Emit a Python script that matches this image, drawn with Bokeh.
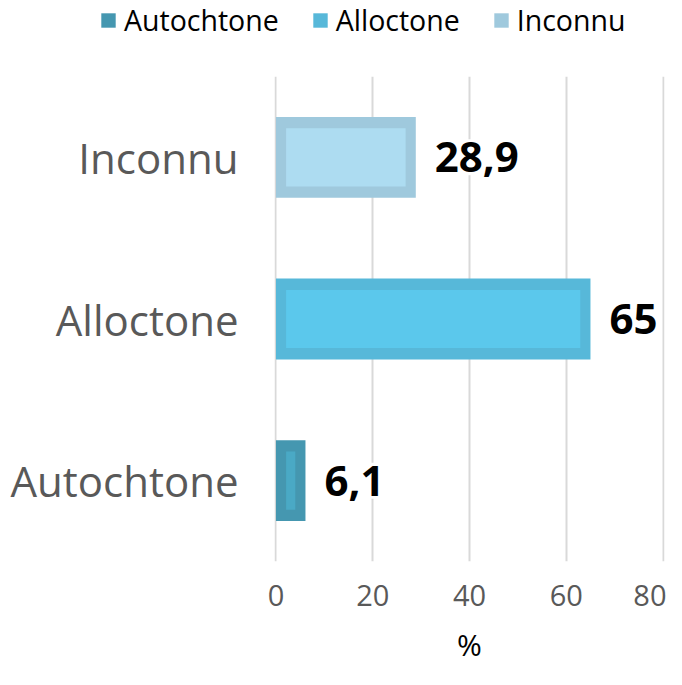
from bokeh.plotting import figure
from bokeh.layouts import column
from bokeh.models import FactorRange, Range1d, FixedTicker, Legend, LegendItem, ColumnDataSource
from bokeh.core.properties import value
from bokeh.embed import file_html
from bokeh.resources import INLINE

categories = ["Autochtone", "Alloctone", "Inconnu"]
values = [6.1, 65, 28.9]
value_labels = ["6,1", "65", "28,9"]
x_ticks = [0, 20, 40, 60, 80]
outer_colors = ["#4597b0", "#57b8d9", "#9fc9dd"]
inner_colors = ["#4aa9c5", "#5bc8ec", "#addcf1"]

INSET_X = 2.1
BAR_H = 0.5
INNER_H = 0.36
LEG_H = 40

src = ColumnDataSource(dict(
    cat=categories,
    val=values,
    lab=value_labels,
    inner_left=[INSET_X for v in values],
    inner_right=[max(v - INSET_X, INSET_X + 0.5) for v in values],
    outer=outer_colors,
    inner=inner_colors,
))

# ---- legend strip (separate small figure on top) ----
lf = figure(width=666, height=LEG_H, x_range=Range1d(-10, -9),
            y_range=FactorRange(*categories),
            x_axis_type=None, y_axis_type=None,
            output_backend="svg", toolbar_location=None,
            min_border_left=99, min_border_right=0,
            min_border_top=0, min_border_bottom=0)
lf.frame_align = False
lf.outline_line_color = None
lf.grid.grid_line_color = None
leg_r = lf.hbar(y="cat", left=0, right="val", height=BAR_H, source=src,
                fill_color="outer", line_color=None)
items = [LegendItem(label=c, renderers=[leg_r], index=i) for i, c in enumerate(categories)]
legend = Legend(items=items, orientation="horizontal", location="center_left",
                label_text_font="Open Sans", label_text_font_size="28.5px",
                label_text_color="black", glyph_width=18, glyph_height=18,
                label_standoff=7, spacing=32, padding=0, margin=0,
                border_line_color=None, background_fill_alpha=0)
lf.add_layout(legend, "center")

# ---- main chart ----
p = figure(width=666, height=669 - LEG_H,
           y_range=FactorRange(*categories),
           x_range=Range1d(-0.3, 80.3),
           output_backend="svg", toolbar_location=None,
           min_border_left=274, min_border_right=2,
           min_border_top=76 - LEG_H, min_border_bottom=108)
p.frame_align = False

p.outline_line_color = None
p.background_fill_color = "white"
p.border_fill_color = "white"

p.ygrid.grid_line_color = None
p.xgrid.grid_line_color = "#d9d9d9"
p.xgrid.grid_line_width = 2
p.xaxis.ticker = FixedTicker(ticks=x_ticks)

p.hbar(y="cat", left=0, right="val", height=BAR_H, source=src,
       fill_color="outer", line_color=None)
p.hbar(y="cat", left="inner_left", right="inner_right", height=INNER_H, source=src,
       fill_color="inner", line_color=None)

p.text(x="val", y="cat", text="lab", source=src, x_offset=16,
       text_baseline="middle", text_align="left",
       text_font=value("Open Sans"), text_font_style="bold",
       text_font_size="42px", text_color="black",
       background_fill_color="white", padding=3)

for ax in (p.xaxis, p.yaxis):
    ax.axis_line_color = None
    ax.major_tick_line_color = None
    ax.minor_tick_line_color = None
    ax.major_tick_out = 0
    ax.major_tick_in = 0
    ax.major_label_text_font = "Open Sans"
    ax.major_label_text_color = "#595959"

p.yaxis.major_label_text_font_size = "42px"
p.yaxis.major_label_standoff = 36
p.xaxis.major_label_text_font_size = "29px"
p.xaxis.major_label_standoff = 23
p.xaxis.axis_label = "%"
p.xaxis.axis_label_text_font = "Open Sans"
p.xaxis.axis_label_text_font_size = "30px"
p.xaxis.axis_label_text_font_style = "normal"
p.xaxis.axis_label_text_color = "black"
p.xaxis.axis_label_standoff = 15

layout = column(lf, p, spacing=0)
open("out.html", "w").write(file_html(layout, INLINE))
